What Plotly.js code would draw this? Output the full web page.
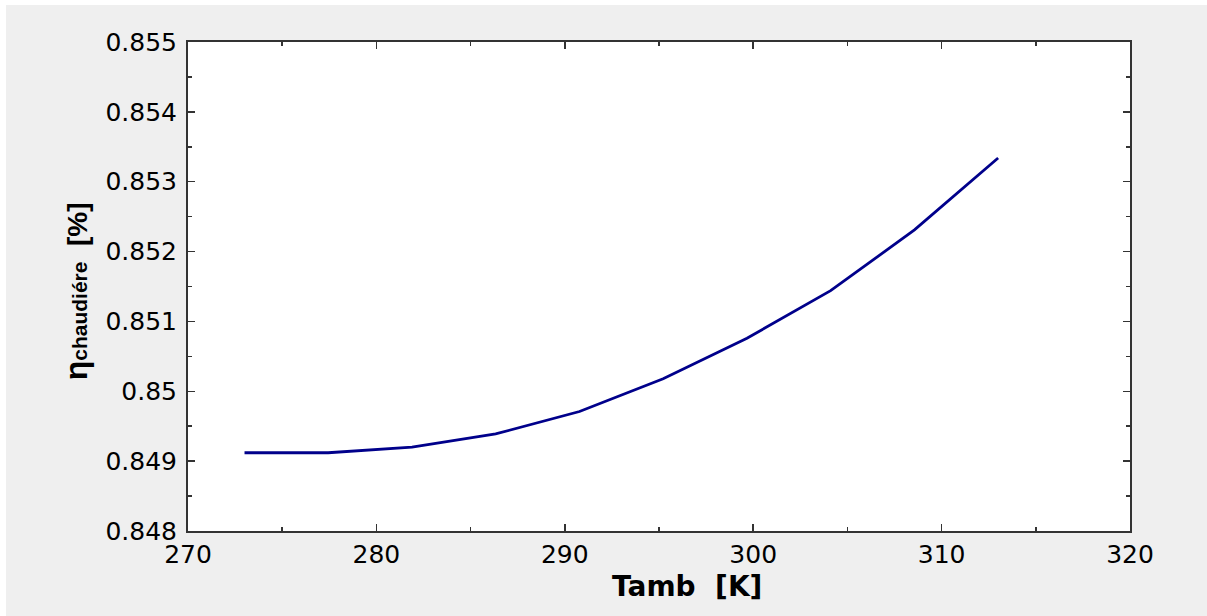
<!DOCTYPE html>
<html>
<head>
<meta charset="utf-8">
<script src="https://cdn.plot.ly/plotly-3.0.1.min.js"></script>
<style>
html,body{margin:0;padding:0;background:#ffffff;width:1207px;height:616px;overflow:hidden;}
#chart{position:absolute;left:6px;top:5px;width:1201px;height:611px;}
</style>
</head>
<body>
<div id="chart"></div>
<script>
// Ambient temperature [K]
const tamb = [273, 277.44, 281.89, 286.33, 290.78, 295.22, 299.67, 304.11, 308.56, 313];
// Boiler efficiency
const etaChaudiere = [0.84912, 0.84912, 0.84920, 0.84939, 0.84971, 0.85018, 0.85076, 0.85144, 0.85231, 0.85334];
const xTicks = [270, 280, 290, 300, 310, 320];
const yTicks = [0.848, 0.849, 0.85, 0.851, 0.852, 0.853, 0.854, 0.855];
const yTickText = ['0.848', '0.849', '0.85', '0.851', '0.852', '0.853', '0.854', '0.855'];
const xTitle = 'Tamb  [K]';

const trace = {
  x: tamb, y: etaChaudiere, type: 'scatter', mode: 'lines',
  line: {color: '#00008b', width: 2.8}, hoverinfo: 'skip'
};

const axisCommon = {
  showgrid: false, zeroline: false, showline: true, linecolor: '#333333', linewidth: 2,
  mirror: 'ticks', ticks: 'inside', ticklen: 7, tickwidth: 1.5, tickcolor: '#333333',
  tickfont: {family: 'DejaVu Sans, sans-serif', size: 25, color: '#000000'}
};

const layout = {
  width: 1201, height: 611,
  paper_bgcolor: '#efefef', plot_bgcolor: '#ffffff',
  margin: {l: 182, t: 37, r: 77, b: 85},
  showlegend: false,
  xaxis: Object.assign({}, axisCommon, {
    range: [270, 320], tickvals: xTicks, ticktext: xTicks.map(String),
    ticklabelstandoff: 0,
    minor: {ticks: 'inside', ticklen: 4, tickwidth: 1.5, tickcolor: '#333333', dtick: 5, tick0: 270}
  }),
  yaxis: Object.assign({}, axisCommon, {
    range: [0.848, 0.855], tickvals: yTicks, ticktext: yTickText,
    ticklabelstandoff: 4,
    minor: {ticks: 'inside', ticklen: 4, tickwidth: 1.5, tickcolor: '#333333', dtick: 0.0005, tick0: 0.848}
  }),
  annotations: [
    {text: '<b>' + xTitle + '</b>', xref: 'paper', yref: 'paper', x: 0.53, y: -0.113,
      xanchor: 'center', yanchor: 'middle', showarrow: false,
      font: {family: 'DejaVu Sans, sans-serif', size: 28, color: '#000000'}},
    {text: '<b><span style="font-size:32px">η</span><span style="font-size:21px">chaudiére</span>  [%]</b>',
      xref: 'paper', yref: 'paper', x: -0.119, y: 0.49, textangle: -90,
      xanchor: 'center', yanchor: 'middle', showarrow: false,
      font: {family: 'Liberation Sans, Arial, sans-serif', size: 28, color: '#000000'}}
  ]
};

Plotly.newPlot('chart', [trace], layout, {displayModeBar: false, staticPlot: true});
</script>
</body>
</html>
